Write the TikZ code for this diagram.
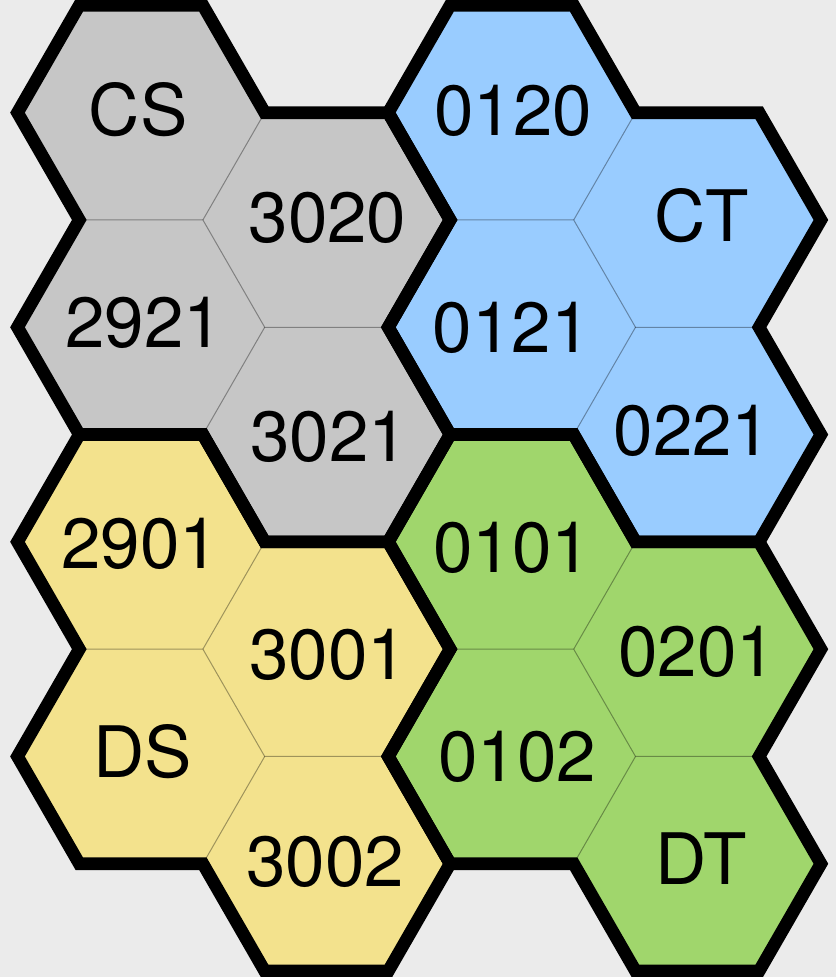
\documentclass[tikz,border=0pt]{standalone}
\usepackage{fontspec}
\setmainfont{TeX Gyre Heros}
\definecolor{bgc}{HTML}{EBEBEB}
\definecolor{grayc}{HTML}{C6C6C6}
\definecolor{bluec}{HTML}{99CCFF}
\definecolor{yellowc}{HTML}{F3E28D}
\definecolor{greenc}{HTML}{A0D66C}
\tikzset{
  outline/.style={draw=black, line width=12.7pt, line join=miter},
  inner/.style={draw=black, draw opacity=0.35, line width=1pt},
  lbl/.style={inner sep=0pt, anchor=center, font=\fontsize{71}{80}\selectfont}
}
\begin{document}
\begin{tikzpicture}[x=1pt, y=-1pt]
\useasboundingbox (0,0) rectangle (836,977);
\fill[bgc] (0,0) rectangle (836,977);
\begin{scope}[shift={(17.5pt,-5.35pt)}, x=61.8pt, y=-107.3pt]
\foreach \dx/\dy/\col in {0/0/grayc, 6/0/bluec, 0/4/yellowc, 6/4/greenc}{
  \fill[\col] (\dx+1,\dy+0) -- (\dx+3,\dy+0) -- (\dx+4,\dy+1) -- (\dx+6,\dy+1) -- (\dx+7,\dy+2) -- (\dx+6,\dy+3) -- (\dx+7,\dy+4) -- (\dx+6,\dy+5) -- (\dx+4,\dy+5) -- (\dx+3,\dy+4) -- (\dx+1,\dy+4) -- (\dx+0,\dy+3) -- (\dx+1,\dy+2) -- (\dx+0,\dy+1) -- cycle;
  \draw[inner] (\dx+4,\dy+1) -- (\dx+3,\dy+2);
  \draw[inner] (\dx+1,\dy+2) -- (\dx+3,\dy+2) -- (\dx+4,\dy+3) -- (\dx+6,\dy+3);
  \draw[inner] (\dx+3,\dy+4) -- (\dx+4,\dy+3);
}
\foreach \dx/\dy in {0/0, 6/0, 0/4, 6/4}{
  \draw[outline] (\dx+1,\dy+0) -- (\dx+3,\dy+0) -- (\dx+4,\dy+1) -- (\dx+6,\dy+1) -- (\dx+7,\dy+2) -- (\dx+6,\dy+3) -- (\dx+7,\dy+4) -- (\dx+6,\dy+5) -- (\dx+4,\dy+5) -- (\dx+3,\dy+4) -- (\dx+1,\dy+4) -- (\dx+0,\dy+3) -- (\dx+1,\dy+2) -- (\dx+0,\dy+1) -- cycle;
}
\end{scope}
\node[lbl] (cs) at (138.3,110) {CS};
\node[lbl] (h3020) at (327.5,218) {3020};
\node[lbl] (h2921) at (144.2,323) {2921};
\node[lbl] (h3021) at (329.2,437) {3021};
\node[lbl] (h0120) at (513.3,110.8) {0120};
\node[lbl] (ct) at (701.7,215.8) {CT};
\node[lbl] (h0121) at (511.7,327.8) {0121};
\node[lbl] (h0221) at (692.5,430.5) {0221};
\node[lbl] (h2901) at (140,544) {2901};
\node[lbl] (h3001) at (328.3,654.7) {3001};
\node[lbl] (ds) at (143,752) {DS};
\node[lbl] (h3002) at (325,862) {3002};
\node[lbl] (h0101) at (512,548) {0101};
\node[lbl] (h0201) at (697,652) {0201};
\node[lbl] (h0102) at (517,757) {0102};
\node[lbl] (dt) at (700.8,858.7) {DT};
\end{tikzpicture}
\end{document}
